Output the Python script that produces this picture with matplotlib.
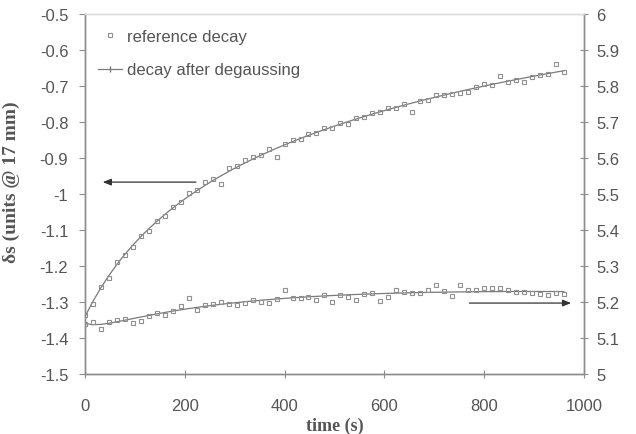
import matplotlib
matplotlib.use("Agg")
import numpy as np
import matplotlib.pyplot as plt
from matplotlib.lines import Line2D
from matplotlib.ticker import FuncFormatter

# ---------------- data ----------------
time_s = [0, 16, 32, 48, 64, 80, 96, 112, 128, 144,
          160, 176, 192, 208, 224, 240, 256, 272, 288, 304,
          320, 336, 352, 368, 384, 400, 416, 432, 448, 464,
          480, 496, 512, 528, 544, 560, 576, 592, 608, 624,
          640, 656, 672, 688, 704, 720, 736, 752, 768, 784,
          800, 816, 832, 848, 864, 880, 896, 912, 928, 944, 960]

reference_decay = [-1.335, -1.305, -1.258, -1.232, -1.190, -1.170, -1.146, -1.116, -1.104, -1.076,
                   -1.062, -1.036, -1.022, -0.998, -0.990, -0.966, -0.958, -0.972, -0.928, -0.922,
                   -0.906, -0.896, -0.891, -0.876, -0.897, -0.860, -0.851, -0.848, -0.832, -0.830,
                   -0.818, -0.817, -0.804, -0.806, -0.790, -0.787, -0.775, -0.772, -0.760, -0.762,
                   -0.750, -0.772, -0.742, -0.738, -0.726, -0.724, -0.722, -0.719, -0.716, -0.703,
                   -0.694, -0.697, -0.672, -0.690, -0.684, -0.688, -0.676, -0.670, -0.668, -0.640, -0.662]

after_degaussing = [5.140, 5.145, 5.125, 5.145, 5.150, 5.152, 5.142, 5.148, 5.160, 5.170,
                    5.165, 5.175, 5.188, 5.210, 5.178, 5.192, 5.195, 5.200, 5.195, 5.192,
                    5.198, 5.205, 5.200, 5.196, 5.207, 5.233, 5.210, 5.212, 5.215, 5.205,
                    5.218, 5.200, 5.220, 5.215, 5.205, 5.222, 5.225, 5.203, 5.215, 5.232,
                    5.228, 5.226, 5.225, 5.232, 5.246, 5.230, 5.217, 5.246, 5.232, 5.233,
                    5.238, 5.240, 5.240, 5.232, 5.228, 5.228, 5.225, 5.222, 5.218, 5.225, 5.222]

left_ticks = [-1.5, -1.4, -1.3, -1.2, -1.1, -1.0, -0.9, -0.8, -0.7, -0.6, -0.5]
right_ticks = [5.0, 5.1, 5.2, 5.3, 5.4, 5.5, 5.6, 5.7, 5.8, 5.9, 6.0]
x_ticks = [0, 200, 400, 600, 800, 1000]

# smooth trend lines fitted to the data (polynomial in log(1 + t/60))
t_arr = np.array(time_s, dtype=float)
u = np.log1p(t_arr / 60.0)
ref_fit = np.polyval(np.polyfit(u, reference_decay, 3), u)
deg_fit = np.polyval(np.polyfit(u, after_degaussing, 3), u)

# ---------------- style ----------------
txt = "#555555"
mk = "#8f8f8f"
ln = "#7a7a7a"
plt.rcParams["font.family"] = ["Liberation Sans", "DejaVu Sans"]

fig = plt.figure(figsize=(6.36, 4.35), dpi=100)
ax = fig.add_axes([0.1336, 0.138, 0.7845, 0.8275])
ax2 = ax.twinx()

ax.plot(time_s, ref_fit, color=ln, lw=0.9)
ax.plot(time_s, reference_decay, ls="none", marker="s", ms=3.2,
        mfc="none", mec=mk, mew=0.8)
ax2.plot(time_s, deg_fit, color=ln, lw=0.9)
ax2.plot(time_s, after_degaussing, ls="none", marker="s", ms=3.0,
         mfc="none", mec=mk, mew=0.8)

ax.set_xlim(0, 1000)
ax.set_ylim(-1.5, -0.5)
ax2.set_ylim(5.0, 6.0)
ax.set_xticks(x_ticks)
ax.set_yticks(left_ticks)
ax2.set_yticks(right_ticks)
fmt = FuncFormatter(lambda v, p: "%g" % round(v, 2))
ax.yaxis.set_major_formatter(fmt)
ax2.yaxis.set_major_formatter(fmt)

for a in (ax, ax2):
    for s in a.spines.values():
        s.set_color("#8c8c8c")
        s.set_linewidth(1.0)
    a.spines["top"].set_color("#dddddd")
ax.tick_params(axis="y", direction="out", length=4, width=0.8, colors="#8c8c8c",
               labelcolor=txt, labelsize=12, pad=8)
ax.tick_params(axis="x", direction="inout", length=6, width=0.8, colors="#8c8c8c",
               labelcolor=txt, labelsize=12, pad=14)
ax2.tick_params(axis="y", direction="inout", length=6, width=0.8, colors="#8c8c8c",
                labelcolor=txt, labelsize=12, pad=6)

ax.set_xlabel("time (s)", family="Liberation Serif", weight="bold",
              fontsize=13, color=txt, labelpad=3)
ax.set_ylabel("δs (units @ 17 mm)", family="Liberation Serif", weight="bold",
              fontsize=14, color=txt)
ax.yaxis.set_label_coords(-0.13, 0.536)

# arrows
ax.annotate("", xy=(30, -0.967), xytext=(228, -0.967),
            arrowprops=dict(arrowstyle="-|>,head_length=0.5,head_width=0.2",
                            color="#333333", lw=0.9))
ax2.annotate("", xy=(980, 5.197), xytext=(765, 5.197),
             arrowprops=dict(arrowstyle="-|>,head_length=0.5,head_width=0.2",
                             color="#333333", lw=0.9))

handles = [Line2D([], [], ls="none", marker="s", ms=3.5, mfc="none", mec=mk, mew=0.8),
           Line2D([], [], color=ln, lw=0.9, marker="|", ms=4, mec=ln)]
leg = ax.legend(handles, ["reference decay", "decay after degaussing"],
                loc="upper left", bbox_to_anchor=(-0.003, 1.0), frameon=False,
                fontsize=12, labelspacing=1.1, handlelength=1.4, handletextpad=0.3,
                labelcolor=txt)

fig.savefig("out.png", dpi=100)
